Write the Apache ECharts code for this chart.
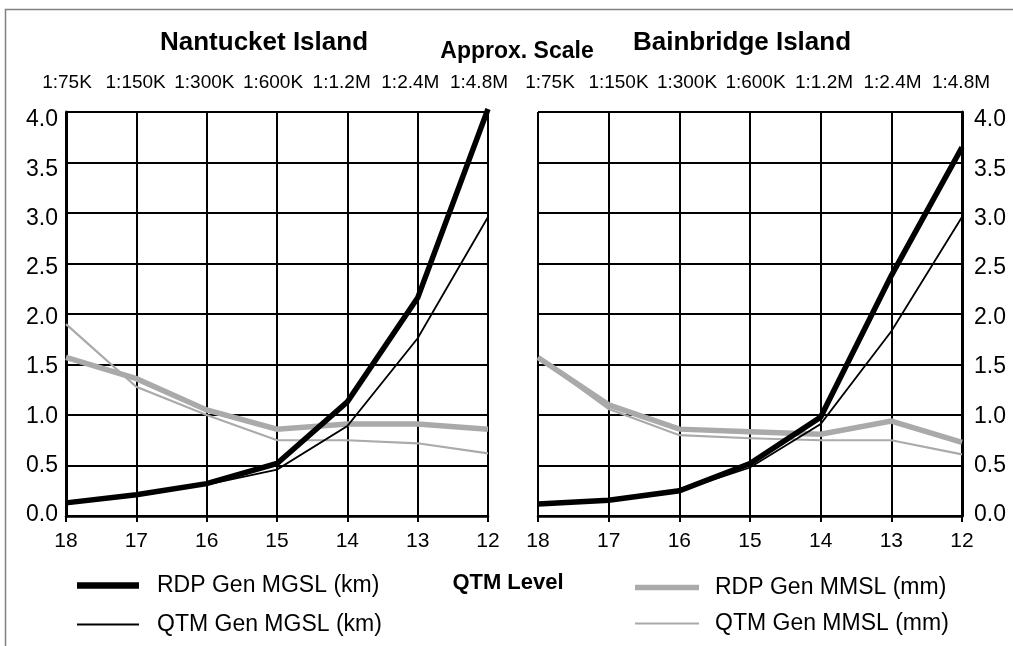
<!DOCTYPE html>
<html><head><meta charset="utf-8">
<script src="https://cdn.jsdelivr.net/npm/echarts@6/dist/echarts.min.js"></script>
<style>html,body{margin:0;padding:0;background:#fff}#c{width:1013px;height:646px}</style>
</head><body><div id="c"></div>
<script>
const qtmLevels = ['18', '17', '16', '15', '14', '13', '12'];
const scaleLabels = ['1:75K', '1:150K', '1:300K', '1:600K', '1:1.2M', '1:2.4M', '1:4.8M'];
const plotTitles = ['Nantucket Island', 'Bainbridge Island'];
const seriesNames = ['RDP Gen MGSL (km)', 'QTM Gen MGSL (km)', 'RDP Gen MMSL (mm)', 'QTM Gen MMSL (mm)'];

const nantucketRdpMgsl = [0.13, 0.21, 0.32, 0.52, 1.13, 2.16, 4.03];
const nantucketQtmMgsl = [0.13, 0.21, 0.31, 0.46, 0.89, 1.76, 2.96];
const nantucketRdpMmsl = [1.57, 1.36, 1.05, 0.86, 0.91, 0.91, 0.86];
const nantucketQtmMmsl = [1.90, 1.28, 1.00, 0.75, 0.75, 0.72, 0.62];

const bainbridgeRdpMgsl = [0.12, 0.155, 0.25, 0.52, 0.98, 2.38, 3.65];
const bainbridgeQtmMgsl = [0.12, 0.155, 0.25, 0.48, 0.91, 1.83, 2.96];
const bainbridgeRdpMmsl = [1.57, 1.10, 0.86, 0.835, 0.81, 0.94, 0.73];
const bainbridgeQtmMmsl = [1.57, 1.06, 0.80, 0.77, 0.75, 0.75, 0.61];

const FONT = "'Liberation Sans', Arial, Helvetica, sans-serif";
const GRAY = '#aaaaaa';

const styles = [
  {color: '#000', width: 5.5, legend: 6.5},
  {color: '#000', width: 1.8, legend: 2},
  {color: GRAY, width: 5.5, legend: 5.5},
  {color: GRAY, width: 2.2, legend: 2.2}
];

function mkSeries(gi, arrs) {
  // draw order: gray thin, gray thick, black thin, black thick
  const order = [3, 2, 1, 0];
  return order.map(k => ({
    type: 'line',
    name: seriesNames[k],
    xAxisIndex: gi, yAxisIndex: gi,
    data: arrs[k],
    symbol: 'none',
    clip: false,
    silent: true,
    lineStyle: {color: styles[k].color, width: styles[k].width, join: 'miter'},
    itemStyle: {color: styles[k].color},
    z: 3
  }));
}

function mainX(gi) {
  return {
    type: 'category', gridIndex: gi, data: qtmLevels, boundaryGap: false, position: 'bottom', offset: 4,
    axisLine: {show: true, lineStyle: {color: '#000', width: 2.5}},
    axisTick: {show: true, length: 6, lineStyle: {color: '#000', width: 2}},
    axisLabel: {color: '#000', fontSize: 21, fontFamily: FONT, margin: 11, interval: 0},
    splitLine: {show: true, lineStyle: {color: '#000', width: 2}}
  };
}
function topX(gi) {
  return {
    type: 'category', gridIndex: gi, data: scaleLabels, boundaryGap: false, position: 'top',
    axisLine: {show: false}, axisTick: {show: false}, splitLine: {show: false},
    axisLabel: {color: '#000', fontSize: 19, fontFamily: FONT, margin: 28, interval: 0}
  };
}
function mainY(gi, pos) {
  return {
    type: 'value', gridIndex: gi, min: 0, max: 4, interval: 0.5, position: pos,
    axisLine: {show: true, lineStyle: {color: '#000', width: 3}},
    axisTick: {show: false},
    axisLabel: {show: false},
    splitLine: {show: true, lineStyle: {color: '#000', width: 2}}
  };
}
function labelY(gi, pos, margin) {
  return {
    type: 'value', gridIndex: gi, min: 0, max: 4, interval: 0.5, position: pos,
    axisLine: {show: false}, axisTick: {show: false}, splitLine: {show: false},
    axisLabel: {color: '#000', fontSize: 23, fontFamily: FONT, margin: margin, formatter: v => v.toFixed(1)}
  };
}

function legendFor(name, left, top, width, style, pad) {
  return {
    data: [name], left: left, top: top, orient: 'vertical', padding: 0,
    icon: 'rect', itemWidth: width, itemHeight: style.legend, selectedMode: false,
    itemStyle: {color: style.color, borderWidth: 0},
    textStyle: {color: '#000', fontSize: 23, fontFamily: FONT, padding: [0, 0, 0, pad]}
  };
}

const option = {
  animation: false,
  backgroundColor: '#fff',
  textStyle: {fontFamily: FONT},
  title: [
    {text: plotTitles[0], left: 264, top: 30, textAlign: 'center', padding: 0,
     textStyle: {fontSize: 26, fontWeight: 'bold', color: '#000', fontFamily: FONT}},
    {text: plotTitles[1], left: 742, top: 30, textAlign: 'center', padding: 0,
     textStyle: {fontSize: 26, fontWeight: 'bold', color: '#000', fontFamily: FONT}},
    {text: 'Approx. Scale', left: 517, top: 40, textAlign: 'center', padding: 0,
     textStyle: {fontSize: 23, fontWeight: 'bold', color: '#000', fontFamily: FONT}},
    {text: 'QTM Level', left: 508, top: 572, textAlign: 'center', padding: 0,
     textStyle: {fontSize: 22, fontWeight: 'bold', color: '#000', fontFamily: FONT}}
  ],
  legend: [
    legendFor(seriesNames[0], 77, 574, 62, styles[0], 13),
    legendFor(seriesNames[1], 77, 613, 62, styles[1], 13),
    legendFor(seriesNames[2], 635, 576, 64, styles[2], 11),
    legendFor(seriesNames[3], 635, 612, 64, styles[3], 11)
  ],
  graphic: [{
    type: 'rect', silent: true, z: -1,
    shape: {x: 5.5, y: 9.5, width: 1200, height: 1000},
    style: {fill: 'none', stroke: '#808080', lineWidth: 1.5}
  }],
  grid: [
    {left: 66, right: 1013 - 488, top: 112, bottom: 646 - 516, outerBoundsMode: 'none', containLabel: false},
    {left: 538, right: 1013 - 962, top: 112, bottom: 646 - 516, outerBoundsMode: 'none', containLabel: false},
    {left: 67, width: 412, top: 120, height: 395, outerBoundsMode: 'none', containLabel: false},
    {left: 550, width: 411, top: 120, height: 395, outerBoundsMode: 'none', containLabel: false}
  ],
  xAxis: [mainX(0), mainX(1), topX(2), topX(3)],
  yAxis: [
    mainY(0, 'left'),
    mainY(1, 'right'),
    labelY(2, 'left', 9),
    labelY(3, 'right', 13)
  ],
  series: [
    ...mkSeries(0, [nantucketRdpMgsl, nantucketQtmMgsl, nantucketRdpMmsl, nantucketQtmMmsl]),
    ...mkSeries(1, [bainbridgeRdpMgsl, bainbridgeQtmMgsl, bainbridgeRdpMmsl, bainbridgeQtmMmsl])
  ]
};

const chart = echarts.init(document.getElementById('c'), null, {renderer: 'canvas'});
chart.setOption(option);
</script>
</body></html>
